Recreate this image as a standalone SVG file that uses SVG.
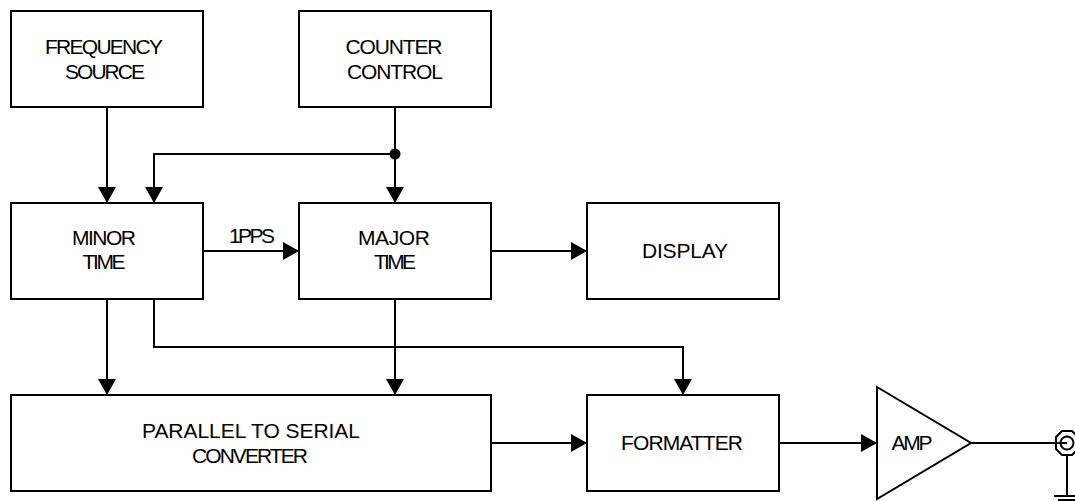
<svg xmlns="http://www.w3.org/2000/svg" width="1075" height="501" viewBox="0 0 1075 501">
<style>
.box{fill:#fff;stroke:#000;stroke-width:2}
.ln{fill:none;stroke:#000;stroke-width:2}
text{font-family:"Liberation Sans",Arial,sans-serif;font-size:21px;text-anchor:middle;fill:#000}
</style>
<defs>
<marker id="arr" markerUnits="userSpaceOnUse" markerWidth="16" markerHeight="18" refX="16" refY="9" orient="auto">
<polygon points="0,0 16,9 0,18" fill="#000"/>
</marker>
</defs>
<rect width="1075" height="501" fill="#fff"/>
<g id="connectors">
<line class="ln" x1="107" y1="107" x2="107" y2="203" marker-end="url(#arr)"/>
<line class="ln" x1="395" y1="107" x2="395" y2="203" marker-end="url(#arr)"/>
<polyline class="ln" points="395,154 154,154 154,203" marker-end="url(#arr)"/>
<circle cx="395" cy="154" r="5.5" fill="#000"/>
<line class="ln" x1="203" y1="251" x2="299" y2="251" marker-end="url(#arr)"/>
<text x="252" y="243" textLength="46" lengthAdjust="spacing">1PPS</text>
<line class="ln" x1="491" y1="251" x2="587" y2="251" marker-end="url(#arr)"/>
<line class="ln" x1="107" y1="299" x2="107" y2="395" marker-end="url(#arr)"/>
<line class="ln" x1="395" y1="299" x2="395" y2="395" marker-end="url(#arr)"/>
<polyline class="ln" points="154,299 154,347 683,347 683,395" marker-end="url(#arr)"/>
<line class="ln" x1="491" y1="443" x2="587" y2="443" marker-end="url(#arr)"/>
<line class="ln" x1="779" y1="443" x2="877" y2="443" marker-end="url(#arr)"/>
<line class="ln" x1="971" y1="443" x2="1067" y2="443"/>
</g>
<g id="freq-source"><rect class="box" x="11" y="11" width="192" height="96"/><text x="104" y="54" textLength="118" lengthAdjust="spacing">FREQUENCY</text><text x="105" y="79" textLength="80" lengthAdjust="spacing">SOURCE</text></g>
<g id="counter-control"><rect class="box" x="299" y="11" width="192" height="96"/><text x="394" y="54" textLength="97" lengthAdjust="spacing">COUNTER</text><text x="395" y="79" textLength="96" lengthAdjust="spacing">CONTROL</text></g>
<g id="minor-time"><rect class="box" x="11" y="203" width="192" height="96"/><text x="104" y="245" textLength="64" lengthAdjust="spacing">MINOR</text><text x="104" y="269" textLength="43" lengthAdjust="spacing">TIME</text></g>
<g id="major-time"><rect class="box" x="299" y="203" width="192" height="96"/><text x="394" y="245" textLength="72" lengthAdjust="spacing">MAJOR</text><text x="395" y="269" textLength="42" lengthAdjust="spacing">TIME</text></g>
<g id="display"><rect class="box" x="587" y="203" width="192" height="96"/><text x="685" y="258" textLength="86" lengthAdjust="spacing">DISPLAY</text></g>
<g id="parallel-serial"><rect class="box" x="11" y="395" width="480" height="96"/><text x="251" y="438" textLength="218" lengthAdjust="spacing">PARALLEL TO SERIAL</text><text x="250" y="463" textLength="116" lengthAdjust="spacing">CONVERTER</text></g>
<g id="formatter"><rect class="box" x="587" y="395" width="192" height="96"/><text x="682" y="450" textLength="122" lengthAdjust="spacing">FORMATTER</text></g>
<g id="amp"><polygon class="box" points="877,387 971,443 877,499"/><text x="912" y="450" textLength="41" lengthAdjust="spacing">AMP</text></g>
<g id="output-connector">
<polygon class="ln" points="1062,431 1072,431 1078,437 1078,449 1072,455 1062,455 1056,449 1056,437" stroke-linejoin="round"/>
<circle class="ln" cx="1067" cy="443" r="6.5"/>
<line class="ln" x1="1067" y1="455" x2="1067" y2="496"/>
<line class="ln" x1="1054" y1="496" x2="1080" y2="496"/>
<line class="ln" x1="1058" y1="500" x2="1076" y2="500"/>
</g>
</svg>
